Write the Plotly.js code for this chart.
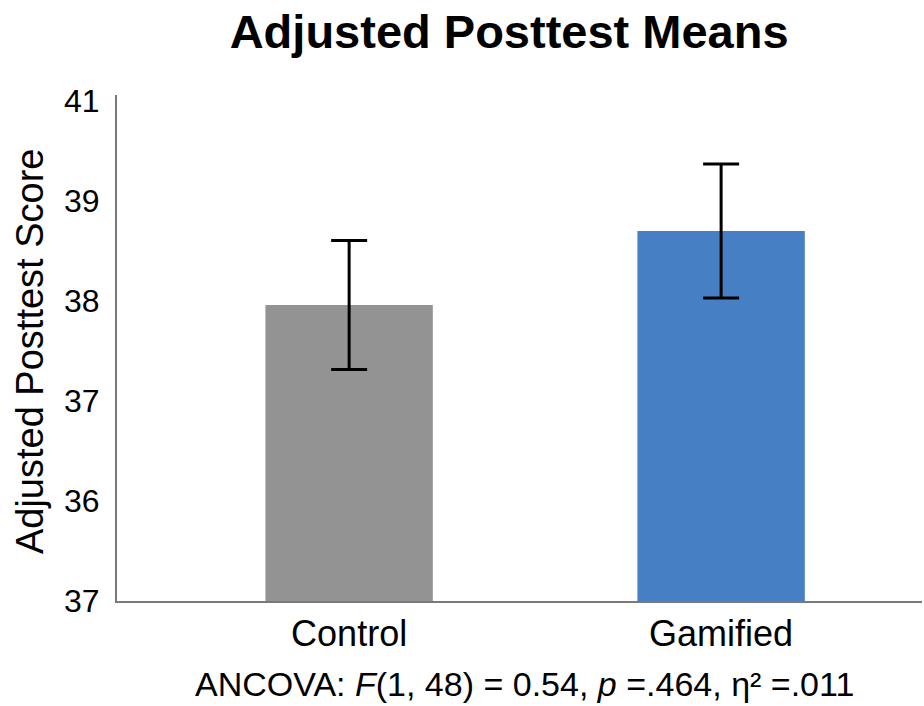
<!DOCTYPE html>
<html><head><meta charset="utf-8">
<script src="https://cdn.plot.ly/plotly-3.0.1.min.js"></script>
<style>html,body{margin:0;padding:0;background:#fff}#chart{width:924px;height:706px}</style>
</head><body><div id="chart"></div>
<script>
const categories = ["Control", "Gamified"];
const means = [37.96, 38.70];
const errors = [0.645, 0.67];
const barColors = ["#939393", "#467fc4"];
const tickValues = [35, 36, 37, 38, 39, 40];
const tickLabels = ["37", "36", "37", "38", "39", "41"];

const FONT = "Liberation Sans, Arial, Helvetica, sans-serif";

const trace = {
  type: "bar",
  x: categories,
  y: means,
  width: 0.45,
  marker: {color: barColors, line: {width: 0}},
  error_y: {type: "data", array: errors, visible: true, color: "#000", thickness: 3, width: 18},
  hoverinfo: "skip"
};

const layout = {
  width: 924, height: 706,
  margin: {l: 117, r: 2, t: 95, b: 105},
  paper_bgcolor: "#fff", plot_bgcolor: "#fff",
  showlegend: false,
  font: {family: FONT, color: "#000"},
  title: {text: "<b>Adjusted Posttest Means</b>", font: {family: FONT, size: 47, color: "#000"},
          x: 0.551, xanchor: "center", y: 0.955, yanchor: "middle"},
  xaxis: {
    range: [-0.624, 1.54], showgrid: false, zeroline: false,
    showline: true, linecolor: "#7a7a7a", linewidth: 2,
    ticks: "", tickfont: {family: FONT, size: 36, color: "#000"},
    ticklabelstandoff: 0
  },
  yaxis: {
    range: [35, 40.06], showgrid: false, zeroline: false,
    showline: true, linecolor: "#7a7a7a", linewidth: 2,
    ticks: "", tickmode: "array", tickvals: tickValues, ticktext: tickLabels,
    tickfont: {family: FONT, size: 32, color: "#000"},
    ticklabelstandoff: 9
  },
  annotations: [
    {text: "Adjusted Posttest Score", textangle: -90, xref: "paper", yref: "paper",
     x: -0.108, y: 0.494, xanchor: "center", yanchor: "middle", showarrow: false,
     font: {family: FONT, size: 38, color: "#000"}},
    {text: "ANCOVA: <i>F</i>(1, 48) = 0.54, <i>p</i> =.464, η² =.011", xref: "paper", yref: "paper",
     x: 0.506, y: -0.164, xanchor: "center", yanchor: "middle", showarrow: false,
     font: {family: FONT, size: 34, color: "#000"}}
  ]
};

Plotly.newPlot("chart", [trace], layout, {displayModeBar: false, staticPlot: true});
</script>
</body></html>
